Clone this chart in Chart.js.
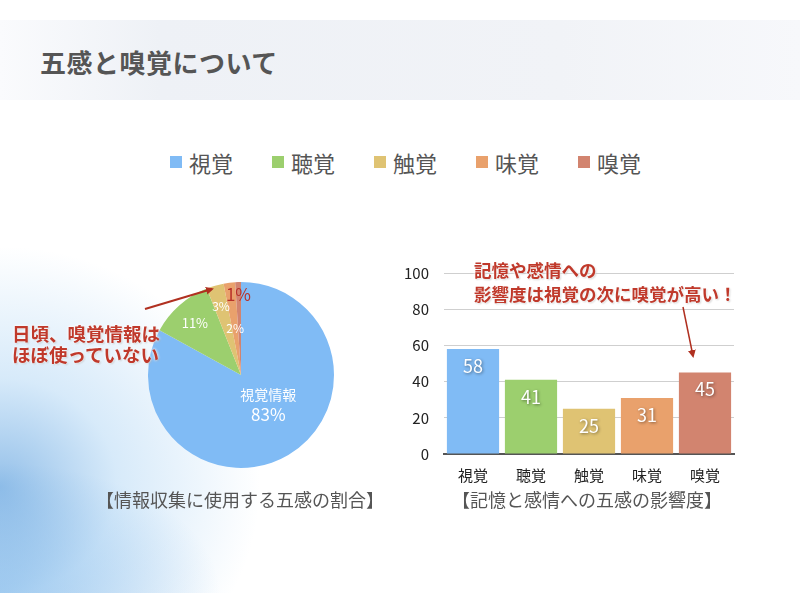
<!DOCTYPE html>
<html lang="ja">
<head>
<meta charset="utf-8">
<script src="https://cdn.jsdelivr.net/npm/chart.js@4"></script>
<style>
  body { margin: 0; }
  #page {
    position: relative; width: 800px; height: 593px; overflow: hidden;
    font-family: "Noto Sans CJK JP", "Noto Sans", sans-serif;
    background:
      radial-gradient(ellipse 260px 240px at 0% 82%, rgba(60,140,215,0.55), rgba(140,195,240,0.35) 45%, rgba(255,255,255,0) 100%),
      radial-gradient(ellipse 220px 130px at 0% 100%, rgba(90,160,225,0.5), rgba(255,255,255,0) 100%),
      #fff;
  }
  #header {
    position: absolute; left: 0; top: 20px; width: 800px; height: 80px;
    background: linear-gradient(90deg, #fafbfd 0%, #eef1f6 20%, #f1f3f7 70%, #f7f8fb 100%);
  }
  #title {
    position: absolute; left: 40px; top: 44px; font-size: 26px; font-weight: 700;
    color: #555; letter-spacing: 0.5px; line-height: 36px;
  }
  #legend {
    position: absolute; left: 170px; top: 146px; display: flex; line-height: 32px;
    font-size: 22px; color: #555;
  }
  .item { display: flex; align-items: center; width: 102px; }
  .box { width: 12px; height: 12px; margin-right: 7px; }
  canvas { position: absolute; }
  .note {
    position: absolute; color: #c0392b; font-weight: 700; white-space: nowrap;
    text-shadow: 0 0 3px #fff, 0 0 3px #fff, 1px 1px 2px rgba(0,0,0,0.25);
  }
  .cap { position: absolute; font-size: 18px; color: #555; white-space: nowrap; transform: translateX(-50%); }
  svg { position: absolute; left: 0; top: 0; }
</style>
</head>
<body>
<div id="page">
  <div id="header"></div>
  <div id="title">五感と嗅覚について</div>
  <div id="legend"></div>
  <canvas id="pie" width="200" height="200" style="left:141px; top:275px;"></canvas>
  <canvas id="bar" width="360" height="241" style="left:390px; top:249px;"></canvas>
  <div class="note" style="left:12px; top:323px; font-size:18.5px; line-height:21px;">日頃、嗅覚情報は<br>ほぼ使っていない</div>
  <div class="note" style="left:474px; top:258px; font-size:17.5px; line-height:24px;">記憶や感情への<br>影響度は視覚の次に嗅覚が高い！</div>
  <svg width="800" height="593">
    <defs>
      <marker id="ah" markerWidth="8" markerHeight="8" refX="6" refY="4" orient="auto" markerUnits="userSpaceOnUse">
        <path d="M0,0 L8,4 L0,8 z" fill="#b03020"/>
      </marker>
    </defs>
    <line x1="145" y1="309" x2="212" y2="289" stroke="#b03020" stroke-width="2" marker-end="url(#ah)"/>
    <line x1="683" y1="307" x2="693" y2="356" stroke="#b03020" stroke-width="1.5" marker-end="url(#ah)"/>
  </svg>
  <div class="cap" style="left:240px; top:486px;">【情報収集に使用する五感の割合】</div>
  <div class="cap" style="left:587px; top:486px;">【記憶と感情への五感の影響度】</div>
</div>
<script>
// 五感
const senses = ['視覚', '聴覚', '触覚', '味覚', '嗅覚'];
const senseColors = ['#80bbf5', '#9ccf6e', '#dfc373', '#e9a16c', '#d2846f'];
// 情報収集に使用する割合 (%)
const shareValues = [83, 11, 3, 2, 1];
// 記憶と感情への影響度
const impactValues = [58, 41, 25, 31, 45];
const yTicks = [0, 20, 40, 60, 80, 100];

// 凡例
const legend = document.getElementById('legend');
senses.forEach((s, i) => {
  legend.innerHTML += `<div class="item"><span class="box" style="background:${senseColors[i]}"></span>${s}</div>`;
});

const FONT = '"Noto Sans CJK JP", "Noto Sans", sans-serif';

// 円グラフのラベル位置 (半径比・ずらし)
const pieLabelRadius = [0.45, 0.75, 0.77, 0.5, 0.87];
const pieLabelNudge = [[6, -6], [0, 0], [0, 0], [0, 0], [0, 0]];

const pieLabels = {
  id: 'pieLabels',
  afterDatasetsDraw(chart) {
    const ctx = chart.ctx;
    chart.getDatasetMeta(0).data.forEach((arc, i) => {
      const mid = (arc.startAngle + arc.endAngle) / 2;
      const r = arc.outerRadius * pieLabelRadius[i];
      const x = arc.x + Math.cos(mid) * r + pieLabelNudge[i][0];
      const y = arc.y + Math.sin(mid) * r + pieLabelNudge[i][1];
      const v = shareValues[i] + '%';
      ctx.save();
      ctx.textAlign = 'center';
      ctx.textBaseline = 'middle';
      if (i === 0) {
        ctx.fillStyle = '#fff';
        ctx.font = '14px ' + FONT;
        ctx.fillText('視覚情報', x, y - 10);
        ctx.font = '17px ' + FONT;
        ctx.fillText(v, x, y + 10);
      } else if (i === 4) {
        ctx.fillStyle = '#b8322a';
        ctx.font = '17px ' + FONT;
        ctx.fillText(v, x, y);
      } else {
        ctx.fillStyle = '#fff';
        ctx.font = (i === 1 ? '13px ' : '12px ') + FONT;
        ctx.fillText(v, x, y);
      }
      ctx.restore();
    });
  }
};

new Chart(document.getElementById('pie'), {
  type: 'pie',
  data: {
    labels: senses,
    datasets: [{ data: shareValues, backgroundColor: senseColors, borderWidth: 0 }]
  },
  options: {
    responsive: false,
    animation: false,
    radius: 93,
    layout: { padding: 0 },
    plugins: { legend: { display: false }, tooltip: { enabled: false } }
  },
  plugins: [pieLabels]
});

const barLabels = {
  id: 'barLabels',
  afterDatasetsDraw(chart) {
    const ctx = chart.ctx;
    chart.getDatasetMeta(0).data.forEach((bar, i) => {
      ctx.save();
      ctx.font = '18px ' + FONT;
      ctx.fillStyle = '#fff';
      ctx.textAlign = 'center';
      ctx.textBaseline = 'middle';
      ctx.shadowColor = 'rgba(0,0,0,0.45)';
      ctx.shadowBlur = 3;
      ctx.shadowOffsetX = 1;
      ctx.shadowOffsetY = 1;
      ctx.fillText(impactValues[i], bar.x, bar.y + 17);
      ctx.restore();
    });
  }
};

new Chart(document.getElementById('bar'), {
  type: 'bar',
  data: {
    labels: senses,
    datasets: [{
      data: impactValues,
      backgroundColor: senseColors,
      borderWidth: 0,
      barPercentage: 0.9,
      categoryPercentage: 1.0
    }]
  },
  options: {
    responsive: false,
    animation: false,
    layout: { padding: { left: 0, right: 16, top: 8, bottom: 0 } },
    plugins: { legend: { display: false }, tooltip: { enabled: false } },
    scales: {
      x: {
        grid: { display: false },
        border: { color: '#555', width: 2 },
        ticks: { color: '#222', font: { size: 15, family: FONT }, padding: 4 },
        afterFit: s => { s.height = 36; }
      },
      y: {
        min: 0, max: 100,
        afterBuildTicks: s => { s.ticks = yTicks.map(v => ({ value: v })); },
        grid: { color: '#cfcfcf', drawTicks: false },
        border: { display: false },
        ticks: { color: '#222', font: { size: 15, family: FONT }, padding: 15 },
        afterFit: s => { s.width = 54; }
      }
    }
  },
  plugins: [barLabels]
});
</script>
</body>
</html>
